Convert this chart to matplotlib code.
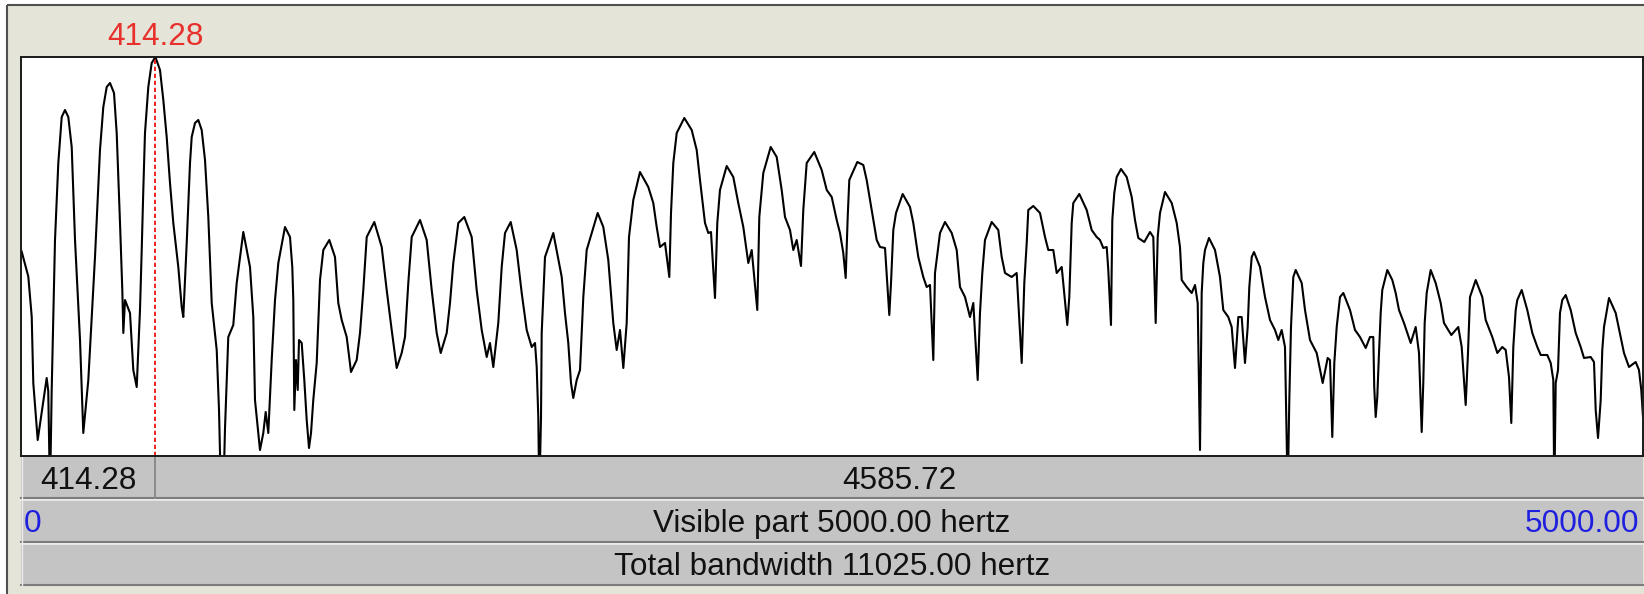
import matplotlib
matplotlib.use("Agg")
import matplotlib.pyplot as plt
from matplotlib.patches import Rectangle

# --- data ---
freq_hz = [
    2, 22.5, 33, 37.9, 51.5, 79.2, 84, 89.4, 94.6, 104.8,
    115, 125.5, 135.6, 145.8, 156.3, 166.5, 181.9, 192, 207.5, 228.1,
    243.5, 253.7, 264.2, 274.4, 286.7, 295, 305.2, 312.3, 315.4, 320.6,
    336, 346.2, 356.7, 366.8, 372.1, 377, 382.2, 392.4, 402.9, 414.28,
    428.5, 438.7, 449.1, 459.3, 469.5, 484.9, 495.4, 500.3, 510.8, 521,
    526.2, 536.4, 546.5, 557, 567.2, 577.4, 587.9, 603.3, 610.4, 616.5,
    623.6, 628.9, 639, 654.4,
    664.9, 685.3, 705.9, 716.1, 721.3, 736.7, 746.9, 754.3, 762.3, 772.8,
    783, 793.2, 813.8, 829.2, 836.3, 839.4, 842.5, 847.7, 853, 857,
    865.3, 873.3, 880.7, 887.8, 894, 901, 911.5, 921.7, 931.9, 950.4,
    967.9, 978.1, 988.6, 1004, 1017.3, 1034.8, 1045, 1055.2, 1065.7, 1089.1,
    1111.9, 1127.3, 1142.7, 1158.1, 1173.5, 1183.7, 1193.9, 1204.4, 1230, 1250.6,
    1266, 1281.4, 1293.8, 1312.3, 1322.4, 1332.6, 1348, 1366.5, 1389.3, 1404.7,
    1420.2, 1435.6, 1445.7, 1455.9, 1471.3, 1481.8, 1492, 1509.6, 1528, 1543.5,
    1558.9, 1574.3, 1584.5, 1589.7, 1594.6, 1597.7, 1603, 1605.1, 1615.3, 1640.9,
    1666.8, 1676.9, 1687.1, 1695.4, 1702.5, 1713, 1723.2, 1733.4, 1743.8, 1777.7,
    1795, 1810.4, 1825.8, 1836.3, 1846.5, 1856.7, 1867.1, 1874.2, 1887.5, 1908.1,
    1933.7, 1949.1, 1959.6, 1969.8, 1985.2, 1998.5, 2003.7, 2010.8, 2021.3, 2044.7,
    2067.5, 2082.9, 2093.1, 2108.5, 2118.7, 2127, 2139.3, 2146.4, 2154.7, 2175.4,
    2195.7, 2211.1, 2226.6, 2242, 2252.5, 2269.7, 2275.9, 2288.2, 2311, 2329.5,
    2344.9, 2355.1, 2370.5, 2380.7, 2391.2, 2404.4, 2411.5, 2422, 2445.4, 2468.2,
    2483.7, 2499.1, 2514.5, 2524.6, 2534.8, 2542.2, 2548.4, 2553.3, 2578, 2596.5,
    2606.9, 2622.4, 2637.8, 2648, 2663.4, 2676.6, 2681.9, 2689, 2697.3, 2717.9,
    2740.4, 2750.6, 2766, 2781.4, 2791.9, 2802.1, 2812.3, 2817.5, 2827.7, 2832.9,
    2848.3, 2869, 2884.4, 2894.6, 2910, 2925.4, 2935.6, 2949.1, 2956.2, 2963.3,
    2971.6, 2992.3, 3012.6, 3023.1, 3033.3, 3053.9, 3069.3, 3084.8, 3092.8, 3100.2,
    3105.1, 3120.5, 3141.2, 3156.6, 3166.8, 3182.2, 3192.6, 3208.1, 3225.3, 3231.5,
    3238.9, 3243.8, 3262.3, 3285.1, 3300.5, 3315.9, 3326.1, 3336.3, 3346.8, 3351.7,
    3360, 3364.1, 3370.2, 3377.6, 3390.9, 3408.4, 3423.9, 3434, 3444.2, 3462.7,
    3480.3, 3490.4, 3497.8, 3504, 3511.1, 3526.5, 3547.2, 3562.6, 3572.7, 3578,
    3593.4, 3608.8, 3619, 3627.3, 3634.4, 3639.6, 3644.6, 3649.8, 3662.1, 3680.6,
    3696, 3706.2, 3721.6, 3732.1, 3742.3, 3752.5, 3762.9, 3773.1, 3781.4, 3786.4,
    3793.8, 3800.8, 3819.3, 3834.8, 3850.2, 3865.6, 3875.8, 3886.2, 3896.4, 3904.7,
    3909.7, 3914.9, 3922, 3929.4, 3947.9, 3958.1, 3973.5, 3994.1, 4012.6, 4028,
    4035.1, 4042.2, 4048.4, 4055.8, 4066, 4076.2, 4096.8, 4112.2, 4127.6, 4145.2,
    4158.4, 4168.6, 4171.5, 4176, 4180.9, 4186.2, 4191.4, 4196.3, 4211.8, 4227.2,
    4237.6, 4247.8, 4263.2, 4283.9, 4299.3, 4309.5, 4317.8, 4322.7, 4327, 4333.2,
    4345.5, 4360.9, 4376.4, 4386.5, 4409.1, 4430.6, 4441.1, 4448.2, 4453.4, 4460.5,
    4466.7, 4484.3, 4504.6, 4515.1, 4535.4, 4550.9, 4566.3, 4576.8, 4586.9, 4594,
    4600.2, 4607.6, 4612.5, 4626.1, 4643.3, 4658.8, 4674.2, 4684.7, 4705, 4715.5,
    4723.5, 4726.6, 4730.9, 4738, 4744.1, 4751.2, 4761.7, 4777.1, 4792.5, 4807.9,
    4818.1, 4838.7, 4848.9, 4854.2, 4861.3, 4869.6, 4874.5, 4879.8, 4895.2, 4915.8,
    4931.2, 4941.4, 4956.8, 4977.5, 4987.6, 4994.7, 5000,
]
level_db = [
    40.9, 35.9, 27.9, 14.6, 3.2, 15.6, 13.0, -8, 13.2, 43.2,
    58.6, 67.8, 69.2, 67.8, 61.8, 43.2, 23.2, 4.6, 15.2, 39.8,
    61.2, 69.8, 73.8, 74.6, 72.6, 64.6, 46.6, 33.2, 24.6, 31.2,
    28.6, 17.2, 13.8, 29.2, 41.2, 53.2, 64.6, 73.8, 78.6, 79.8,
    77.2, 71.2, 63.8, 54.6, 46.6, 37.8, 29.8, 27.8, 42.6, 58.6,
    63.8, 66.6, 67.2, 65.2, 59.2, 47.8, 30.6, 21.2, 9.2, -8,
    -8, 5.6, 23.8, 26.2,
    34.6, 44.8, 37.8, 27.8, 11.2, 1.2, 4.6, 8.8, 4.6, 19.2,
    31.2, 38.6, 45.8, 43.8, 37.8, 31.2, 9.2, 19.2, 13.2, 23.2,
    22.6, 15.2, 7.2, 1.6, 4.6, 11.2, 18.6, 35.2, 41.2, 43.2,
    39.8, 30.6, 27.2, 23.8, 16.8, 19.2, 24.6, 33.2, 43.8, 46.8,
    41.8, 33.2, 25.2, 17.6, 20.6, 23.8, 34.6, 43.8, 47.2, 43.2,
    33.2, 24.6, 20.6, 24.6, 30.6, 38.6, 46.6, 47.8, 43.8, 33.2,
    25.2, 19.8, 22.6, 17.8, 26.6, 37.8, 44.6, 46.8, 41.2, 32.6,
    25.2, 21.8, 22.6, 17.8, 7.8, -8, 7.8, 24.6, 39.8, 44.6,
    35.8, 28.6, 22.6, 14.6, 11.6, 15.2, 17.2, 31.8, 41.2, 48.6,
    45.8, 39.2, 26.6, 21.2, 25.2, 17.6, 26.6, 43.8, 51.2, 56.8,
    53.8, 50.6, 45.8, 41.8, 42.6, 35.8, 48.6, 58.6, 64.6, 67.6,
    65.2, 61.2, 55.2, 46.6, 44.6, 44.8, 31.6, 46.6, 53.2, 58,
    55.8, 50.6, 45.8, 38.6, 41.2, 29.2, 47.8, 56.6, 61.8, 59.8,
    53.2, 47.8, 45.2, 41.2, 43.2, 38, 49.2, 58.6, 60.8, 57.2,
    53.2, 51.8, 47.2, 44.6, 40.6, 35.6, 47.8, 55.2, 58.8, 58.2,
    55.2, 49.2, 43.2, 41.8, 41.6, 28.2, 34.6, 45.2, 48.6, 52.4,
    49.8, 46.6, 39.8, 35.8, 33.8, 34.2, 19.2, 36.6, 41.8, 44.6,
    46.8, 44.6, 41.2, 33.8, 31.8, 27.8, 30.6, 15.2, 28.6, 36.6,
    43.2, 46.8, 45.2, 39.8, 36.6, 35.8, 36.6, 18.6, 34.6, 42.6,
    49.2, 50, 48.6, 43.8, 41.2, 41.2, 36.6, 37.8, 26.2, 31.8,
    46.6, 50.6, 52.4, 49.2, 45.2, 43.8, 43.2, 41.6, 41.8, 37.2,
    26.2, 47.2, 52.6, 55.8, 57.4, 55.8, 51.8, 47.2, 43.6, 42.8,
    44.8, 43.8, 26.6, 43.8, 48.6, 52.8, 50.6, 46.6, 41.8, 35.2,
    33.8, 32.6, 34.2, 30.6, 1.2, 32.6, 38.6, 41.2, 43.6, 41.2,
    35.8, 29.2, 27.8, 25.8, 17.6, 27.8, 27.8, 18.6, 25.8, 33.8,
    39.8, 40.8, 37.8, 31.8, 27.2, 25.2, 23.2, 25.2, 21.8, -8,
    11.2, 25.8, 35.8, 37.2, 34.6, 29.2, 23.2, 20.6, 14.6, 19.6,
    19.2, 3.8, 18.6, 25.8, 31.8, 32.6, 29.2, 25.2, 23.8, 21.6,
    23.8, 23.8, 13.8, 7.8, 11.8, 20.6, 28.6, 33.2, 37.2, 35.2,
    32.6, 29.2, 26.6, 22.6, 25.8, 20.6, 4.8, 14.6, 26.6, 32.6,
    37.2, 34.6, 30.6, 26.6, 24.2, 25.8, 21.8, 15.2, 10.2, 20.6,
    31.8, 35.2, 31.8, 27.2, 23.8, 20.6, 21.8, 21.2, 15.8, 6.6,
    21.8, 29.2, 31.2, 33.2, 29.2, 24.6, 21.8, 20.2, 20.2, 18.6,
    15.2, -8, 14.6, 17.2, 28.6, 31.2, 32.2, 29.2, 24.6, 21.8,
    19.6, 19.8, 18.8, 9.2, 3.6, 11.2, 21.2, 25.8, 31.6, 28.6,
    23.8, 20.6, 17.8, 18.8, 17.2, 13.2, 7.8,
]
assert len(freq_hz) == len(level_db)

cursor_hz = 414.28
view_hz = (0.0, 5000.0)
view_db = (0.0, 79.8)
total_bandwidth_hz = 11025.0

# --- window geometry (pixels) ---
W, H = 1644, 594
plot_x0, plot_x1 = 21, 1643
plot_y0, plot_y1 = 57, 456

plt.rcParams["font.family"] = ["Liberation Sans", "DejaVu Sans"]
FS = 22.7

fig = plt.figure(figsize=(W / 100, H / 100), dpi=100, facecolor="white")

# background layer in pixel coordinates (y downwards)
bg = fig.add_axes([0, 0, 1, 1], zorder=0)
bg.set_xlim(0, W)
bg.set_ylim(H, 0)
bg.axis("off")

beige = "#e4e4d8"
grey = "#c4c4c4"
light = "#ececec"
dark = "#7c7c7c"

bg.add_patch(Rectangle((8, 6), W - 8, H - 6, facecolor=beige, edgecolor="none"))
bg.plot([7, W], [5, 5], color="#505050", lw=1.5, solid_capstyle="butt")
bg.plot([7, 7], [5, H], color="#505050", lw=1.5, solid_capstyle="butt")


def bar(y0, y1, top_light=True):
    bg.add_patch(Rectangle((plot_x0, y0), plot_x1 - plot_x0, y1 - y0,
                           facecolor=grey, edgecolor="none"))
    if top_light:
        bg.plot([plot_x0, plot_x1], [y0 + 0.8, y0 + 0.8], color=light, lw=1.2)
    bg.plot([plot_x0, plot_x1], [y1 - 1, y1 - 1], color=dark, lw=1.5)
    bg.plot([plot_x0 + 0.8, plot_x0 + 0.8], [y0, y1 - 1], color=light, lw=1.0)


bar(plot_y1, 499, top_light=False)
bar(499.5, 543)
bar(543.5, 586)

# spectrum axes
ax = fig.add_axes([plot_x0 / W, (H - plot_y1) / H,
                   (plot_x1 - plot_x0) / W, (plot_y1 - plot_y0) / H], zorder=1)
ax.set_facecolor("white")
ax.plot(freq_hz, level_db, color="black", lw=1.5)
ax.axvline(cursor_hz, color="#ee2222", lw=1.4, ls=(0, (2.2, 1.4)))
ax.set_xlim(*view_hz)
ax.set_ylim(*view_db)
ax.set_xticks([])
ax.set_yticks([])
for s in ax.spines.values():
    s.set_color("#1a1a1a")
    s.set_linewidth(1.4)

# cursor position in pixels, through the axis scale
cx = ax.transData.transform((cursor_hz, 0))[0]

bg.plot([cx, cx], [plot_y1, 498], color="#8a8a8a", lw=1.4)

# texts
bg.text(cx, 45, f"{cursor_hz:.2f}", color="#e8302c", fontsize=FS,
        ha="center", va="baseline")
bg.text((plot_x0 + cx) / 2, 489, f"{cursor_hz:.2f}", color="#111111",
        fontsize=FS, ha="center", va="baseline")
bg.text((cx + plot_x1) / 2, 489, f"{view_hz[1] - cursor_hz:.2f}",
        color="#111111", fontsize=FS, ha="center", va="baseline")
bg.text(plot_x0 + 3, 532, f"{view_hz[0]:.0f}", color="#1f1fe0",
        fontsize=FS, ha="left", va="baseline")
bg.text((plot_x0 + plot_x1) / 2, 532,
        f"Visible part {view_hz[1] - view_hz[0]:.2f} hertz",
        color="#111111", fontsize=FS, ha="center", va="baseline")
bg.text(plot_x1 - 4, 532, f"{view_hz[1]:.2f}", color="#1f1fe0",
        fontsize=FS, ha="right", va="baseline")
bg.text((plot_x0 + plot_x1) / 2, 575,
        f"Total bandwidth {total_bandwidth_hz:.2f} hertz",
        color="#111111", fontsize=FS, ha="center", va="baseline")

fig.savefig("out.png", dpi=100, facecolor="white")
